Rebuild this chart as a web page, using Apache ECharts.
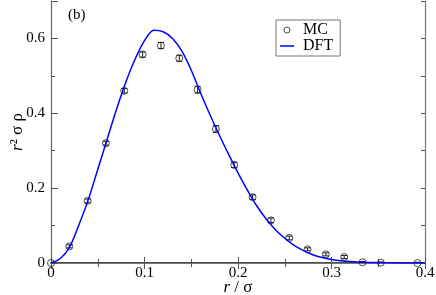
<!DOCTYPE html>
<html>
<head>
<meta charset="utf-8">
<script src="https://cdn.jsdelivr.net/npm/echarts@6/dist/echarts.min.js"></script>
<style>html,body{margin:0;padding:0;background:#fff}#c{width:436px;height:295px}</style>
</head>
<body>
<div id="c"></div>
<script>
// MC simulation data
const mcR = [0, 0.0196, 0.0392, 0.0588, 0.0784, 0.098, 0.1176, 0.1372, 0.1568, 0.1764, 0.196, 0.2156, 0.2352, 0.2548, 0.2744, 0.294, 0.3136, 0.3332, 0.3528, 0.392];
const mcRho = [0, 0.0445, 0.166, 0.320, 0.460, 0.557, 0.581, 0.547, 0.463, 0.358, 0.262, 0.176, 0.114, 0.067, 0.0365, 0.023, 0.016, 0.002, 0.001, 0.0];
const mcErr = [0.002, 0.004, 0.005, 0.005, 0.006, 0.007, 0.008, 0.008, 0.009, 0.009, 0.007, 0.006, 0.006, 0.005, 0.004, 0.004, 0.004, 0.002, 0.002, 0.002];
// DFT curve
const dftR = [0, 0.01, 0.02, 0.03, 0.04, 0.05, 0.06, 0.07, 0.08, 0.09, 0.10, 0.11, 0.12, 0.13, 0.14, 0.15, 0.16, 0.17, 0.18, 0.19, 0.20, 0.21, 0.22, 0.23, 0.24, 0.25, 0.26, 0.27, 0.28, 0.29, 0.30, 0.31, 0.32, 0.33, 0.34, 0.35, 0.36, 0.37, 0.38, 0.39, 0.40];
const dftRho = [0, 0.012, 0.043, 0.103, 0.170, 0.250, 0.330, 0.410, 0.483, 0.545, 0.594, 0.622, 0.618, 0.600, 0.566, 0.515, 0.454, 0.396, 0.342, 0.290, 0.241, 0.195, 0.153, 0.118, 0.089, 0.066, 0.047, 0.033, 0.022, 0.0145, 0.0095, 0.006, 0.0037, 0.0023, 0.0014, 0.0008, 0.0005, 0.0003, 0.0001, 0, 0];
// Axis ticks
const xTicks = [0, 0.1, 0.2, 0.3, 0.4];
const yTicks = [0, 0.2, 0.4, 0.6];

const FONT = 'Liberation Serif';
const chart = echarts.init(document.getElementById('c'), null, {renderer: 'canvas'});

const fmt = (ticks) => (v) => {
  for (const t of ticks) if (Math.abs(v - t) < 1e-9) return String(t);
  return '';
};
const nameRich = {
  i: {fontFamily: FONT, fontSize: 17, fontStyle: 'italic', color: '#000'},
  n: {fontFamily: FONT, fontSize: 17, color: '#000'}
};

const mcData = mcR.map((r, i) => [r, mcRho[i]]);
const errData = mcR.map((r, i) => [r, mcRho[i], mcErr[i]]);
const dftData = dftR.map((r, i) => [r, dftRho[i]]);

const option = {
  backgroundColor: '#fff',
  animation: false,
  textStyle: {fontFamily: FONT},
  grid: {left: 51, right: 11, top: 1, bottom: 32, containLabel: false, outerBoundsMode: 'none'},
  legend: {
    orient: 'vertical', left: 276, top: 20,
    padding: [2, 7, 2, 4], itemGap: 0, itemWidth: 14, itemHeight: 6,
    borderColor: '#777', borderWidth: 1,
    textStyle: {fontFamily: FONT, fontSize: 16, lineHeight: 16, color: '#000', padding: [0, 0, 0, 4]},
    data: [
      {name: 'MC', icon: 'circle', itemStyle: {color: 'rgba(255,255,255,0)', borderColor: '#222', borderWidth: 1}},
      {name: 'DFT', icon: 'path://M0,0 L14,0 L14,1.5 L0,1.5 Z', itemStyle: {color: '#0000ff', borderWidth: 0}}
    ]
  },
  xAxis: [{
    type: 'value', min: 0, max: 0.4, interval: 0.1, position: 'bottom',
    name: '{i|r}{n| / σ}', nameLocation: 'middle', nameGap: 16, nameMoveOverlap: false,
    nameTextStyle: {fontFamily: FONT, fontSize: 17, color: '#000', rich: nameRich},
    axisLine: {lineStyle: {color: '#111', width: 1.5}},
    axisTick: {inside: true, length: 6, lineStyle: {color: '#555'}},
    minorTick: {show: true, splitNumber: 2, length: 4, lineStyle: {color: '#555'}},
    axisLabel: {fontFamily: FONT, fontSize: 15, color: '#000', margin: 3, formatter: fmt(xTicks)},
    splitLine: {show: false}
  }, {
    type: 'value', min: 0, max: 0.4, interval: 0.1, position: 'top',
    axisLine: {lineStyle: {color: '#777', width: 1.2}},
    axisTick: {inside: true, length: 6, lineStyle: {color: '#555'}},
    minorTick: {show: true, splitNumber: 2, length: 4, lineStyle: {color: '#555'}},
    axisLabel: {show: false}, splitLine: {show: false}
  }],
  yAxis: [{
    type: 'value', min: 0, max: 0.7, interval: 0.2, position: 'left',
    name: '{i|r}{n|² σ ρ}', nameLocation: 'middle', nameGap: 25, nameRotate: 90, nameMoveOverlap: false,
    nameTextStyle: {fontFamily: FONT, fontSize: 17, color: '#000', rich: nameRich},
    axisLine: {lineStyle: {color: '#666', width: 1.2}},
    axisTick: {inside: true, length: 7, lineStyle: {color: '#555'}},
    axisLabel: {fontFamily: FONT, fontSize: 15, color: '#000', margin: 6, formatter: fmt(yTicks)},
    splitLine: {show: false}
  }, {
    type: 'value', min: 0, max: 0.7, interval: 0.1, position: 'left',
    axisLine: {show: false},
    axisTick: {inside: true, length: 4, lineStyle: {color: '#555'}},
    axisLabel: {show: false}, splitLine: {show: false}
  }, {
    type: 'value', min: 0, max: 0.7, interval: 0.1, position: 'right',
    axisLine: {show: true, lineStyle: {color: '#777', width: 1.2}},
    axisTick: {inside: true, length: 4, lineStyle: {color: '#555'}},
    axisLabel: {show: false}, splitLine: {show: false}
  }],
  graphic: [{
    type: 'text', left: 68, top: 8,
    style: {text: '(b)', fontFamily: FONT, fontSize: 15, fill: '#000'}
  }],
  series: [{
    name: 'MC-err', type: 'custom', xAxisIndex: 0, yAxisIndex: 0, z: 3,
    data: errData, clip: true,
    renderItem: function (params, api) {
      const x = api.value(0), y = api.value(1), e = api.value(2);
      const t = api.coord([x, y + e]);
      const b = api.coord([x, y - e]);
      const hw = 3;
      const st = {stroke: '#222', lineWidth: 1};
      return {type: 'group', children: [
        {type: 'line', shape: {x1: t[0], y1: t[1], x2: b[0], y2: b[1]}, style: st},
        {type: 'line', shape: {x1: t[0] - hw, y1: t[1], x2: t[0] + hw, y2: t[1]}, style: st},
        {type: 'line', shape: {x1: b[0] - hw, y1: b[1], x2: b[0] + hw, y2: b[1]}, style: st}
      ]};
    }
  }, {
    name: 'MC', type: 'scatter', xAxisIndex: 0, yAxisIndex: 0, z: 3,
    symbol: 'circle', symbolSize: 7,
    itemStyle: {color: 'rgba(255,255,255,0)', borderColor: '#222', borderWidth: 1},
    data: mcData
  }, {
    name: 'DFT', type: 'line', xAxisIndex: 0, yAxisIndex: 0, z: 4,
    symbol: 'none', smooth: 0.3,
    lineStyle: {color: '#0000ff', width: 1.5},
    itemStyle: {color: '#0000ff'},
    data: dftData
  }]
};
chart.setOption(option);
</script>
</body>
</html>
